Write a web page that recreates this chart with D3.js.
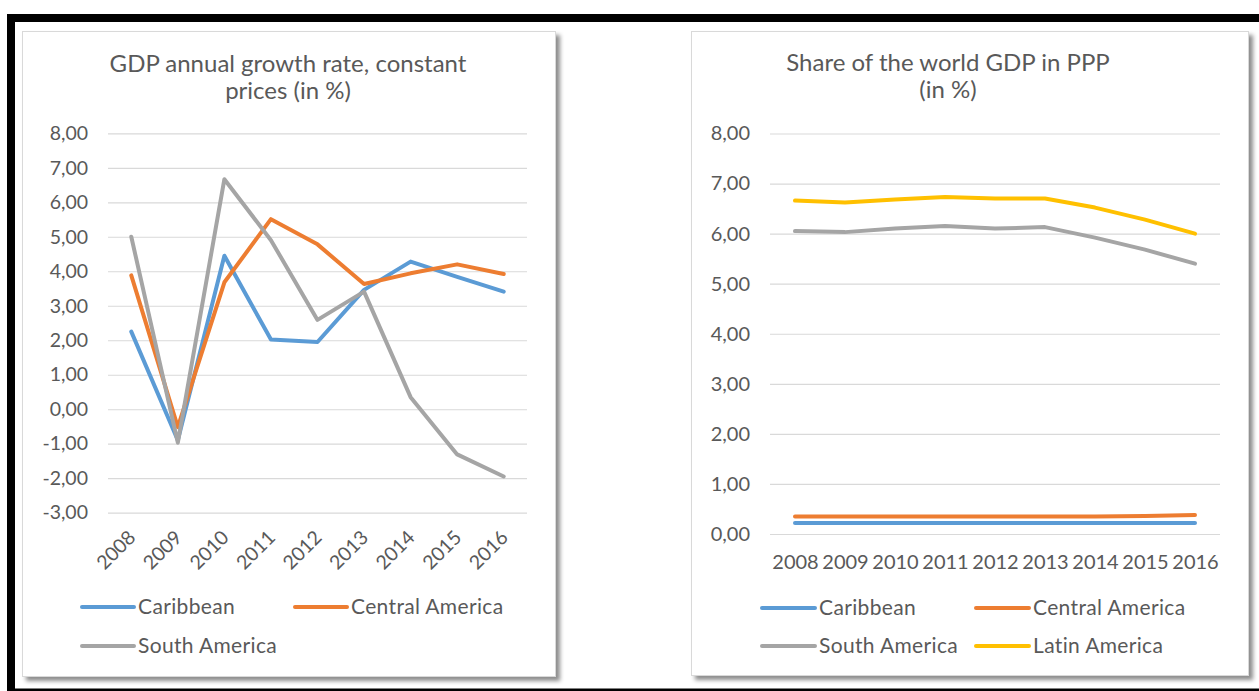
<!DOCTYPE html>
<html>
<head>
<meta charset="utf-8">
<script src="https://cdn.jsdelivr.net/npm/d3@7"></script>
<style>
  body { margin: 0; background: #fff; }
  svg text { font-family: Lato, "Open Sans", sans-serif; fill: #595959; }
</style>
</head>
<body>
<svg id="chart" width="1259" height="691"></svg>
<script>
// ---- data ----
const years = ["2008", "2009", "2010", "2011", "2012", "2013", "2014", "2015", "2016"];

// GDP annual growth rate, constant prices (%)
const growthCaribbean      = [2.25, -0.90, 4.45, 2.02, 1.95, 3.46, 4.28, 3.84, 3.41];
const growthCentralAmerica = [3.88, -0.52, 3.68, 5.51, 4.78, 3.63, 3.94, 4.20, 3.92];
const growthSouthAmerica   = [5.00, -0.97, 6.67, 4.90, 2.59, 3.41, 0.35, -1.31, -1.95];

// Share of the world GDP in PPP (%)
const shareCaribbean      = [0.22, 0.22, 0.22, 0.22, 0.22, 0.22, 0.22, 0.22, 0.22];
const shareCentralAmerica = [0.35, 0.35, 0.35, 0.35, 0.35, 0.35, 0.35, 0.36, 0.38];
const shareSouthAmerica   = [6.05, 6.03, 6.10, 6.15, 6.10, 6.13, 5.92, 5.68, 5.40];
const shareLatinAmerica   = [6.66, 6.62, 6.68, 6.73, 6.70, 6.70, 6.52, 6.28, 6.00];

const growthTicks = [-3, -2, -1, 0, 1, 2, 3, 4, 5, 6, 7, 8];
const shareTicks  = [0, 1, 2, 3, 4, 5, 6, 7, 8];

const colors = {
  "Caribbean": "#5B9BD5",
  "Central America": "#ED7D31",
  "South America": "#A5A5A5",
  "Latin America": "#FFC000"
};

// ---- helpers ----
const locale = d3.formatLocale({ decimal: ",", thousands: ".", grouping: [3], currency: ["", ""], minus: "-" });
const fmt = locale.format(".2f");

const svg = d3.select("#chart");

const defs = svg.append("defs");
const shadow = defs.append("filter").attr("id", "cardShadow")
  .attr("x", "-5%").attr("y", "-5%").attr("width", "115%").attr("height", "115%");
shadow.append("feDropShadow")
  .attr("dx", 4).attr("dy", 4).attr("stdDeviation", 2.2)
  .attr("flood-color", "#000").attr("flood-opacity", 0.45);

// black frame around the figure
svg.append("rect").attr("x", 7).attr("y", 14).attr("width", 1260).attr("height", 680).attr("fill", "#000");
svg.append("rect").attr("x", 15).attr("y", 22).attr("width", 1250).attr("height", 666.5).attr("fill", "#fff");

function card(x0, y0, x1, y1) {
  svg.append("rect")
    .attr("x", x0 + 0.5).attr("y", y0 + 0.5)
    .attr("width", x1 - x0).attr("height", y1 - y0)
    .attr("fill", "#fff").attr("stroke", "#D9D9D9").attr("stroke-width", 1)
    .attr("filter", "url(#cardShadow)");
}

function lineChart(cfg) {
  const g = svg.append("g");

  const x = d3.scalePoint().domain(years).range([cfg.left, cfg.right]).padding(0.5);
  const y = d3.scaleLinear().domain([cfg.ticks[0], cfg.ticks[cfg.ticks.length - 1]])
    .range([cfg.bottom, cfg.top]);

  // title
  const title = g.append("text")
    .attr("text-anchor", "middle")
    .style("font-size", cfg.titleSize + "px");
  cfg.title.forEach((line, i) => {
    title.append("tspan").attr("x", cfg.titleX).attr("y", cfg.titleY + i * cfg.titleGap).text(line);
  });

  // value axis with gridlines
  const yAxis = g.append("g")
    .attr("transform", `translate(${cfg.left},0)`)
    .call(d3.axisLeft(y).tickValues(cfg.ticks).tickFormat(fmt)
      .tickSize(-(cfg.right - cfg.left)).tickPadding(cfg.left - cfg.labelRight));
  yAxis.select(".domain").remove();
  yAxis.attr("font-family", null).attr("font-size", null);
  yAxis.selectAll(".tick line").attr("stroke", "#D9D9D9").attr("stroke-width", 1.2);
  yAxis.selectAll(".tick text")
    .style("font-size", cfg.labelSize + "px")
    .attr("fill", null);

  // category axis
  const xAxis = g.append("g")
    .attr("transform", `translate(0,${cfg.bottom})`)
    .call(d3.axisBottom(x).tickSize(0).tickPadding(0));
  xAxis.select(".domain").remove();
  xAxis.attr("font-family", null).attr("font-size", null);
  const xt = xAxis.selectAll(".tick text")
    .style("font-size", cfg.labelSize + "px")
    .attr("fill", null);
  if (cfg.rotate) {
    xt.attr("text-anchor", "end")
      .attr("dy", null)
      .attr("transform", `translate(${cfg.rotDx},${cfg.rotDy}) rotate(-45)`);
  } else {
    xt.attr("dy", null).attr("y", cfg.xLabelDy);
  }

  // series lines
  const line = d3.line().x((d, i) => x(years[i])).y(d => y(d));
  cfg.series.forEach(s => {
    g.append("path")
      .datum(s.values)
      .attr("fill", "none")
      .attr("stroke", colors[s.name])
      .attr("stroke-width", 4)
      .attr("stroke-linejoin", "round")
      .attr("stroke-linecap", "round")
      .attr("d", line);
  });

  // legend
  cfg.series.forEach((s, i) => {
    const pos = cfg.legend[i];
    const lg = g.append("g").attr("transform", `translate(${pos[0]},${pos[1]})`);
    lg.append("line")
      .attr("x1", 0).attr("x2", cfg.legendLine)
      .attr("stroke", colors[s.name]).attr("stroke-width", 4).attr("stroke-linecap", "round");
    lg.append("text")
      .attr("x", cfg.legendLine + 4).attr("dy", "0.35em")
      .style("font-size", cfg.legendSize + "px")
      .style("letter-spacing", "0.35px")
      .text(s.name);
  });
}

// ---- cards ----
card(22, 31, 555, 676);
card(691, 31, 1248, 675);

// ---- left chart: growth ----
lineChart({
  title: ["GDP annual growth rate, constant", "prices (in %)"],
  titleX: 288, titleY: 72, titleGap: 27, titleSize: 24,
  left: 108, right: 527, top: 133.3, bottom: 512.7,
  labelRight: 88, labelSize: 19.5, legendSize: 21,
  ticks: growthTicks,
  rotate: true, rotDx: 5, rotDy: 26,
  series: [
    { name: "Caribbean", values: growthCaribbean },
    { name: "Central America", values: growthCentralAmerica },
    { name: "South America", values: growthSouthAmerica }
  ],
  legend: [[82, 607], [295, 607], [82, 646]],
  legendLine: 52
});

// ---- right chart: share of world GDP ----
lineChart({
  title: ["Share of the world GDP in PPP", "(in %)"],
  titleX: 948, titleY: 71, titleGap: 27, titleSize: 24,
  left: 770, right: 1220, top: 133.5, bottom: 534,
  labelRight: 750, labelSize: 20, legendSize: 21,
  ticks: shareTicks,
  rotate: false, xLabelDy: 35,
  series: [
    { name: "Caribbean", values: shareCaribbean },
    { name: "Central America", values: shareCentralAmerica },
    { name: "South America", values: shareSouthAmerica },
    { name: "Latin America", values: shareLatinAmerica }
  ],
  legend: [[762, 608], [976, 608], [762, 646], [976, 646]],
  legendLine: 53
});
</script>
</body>
</html>
